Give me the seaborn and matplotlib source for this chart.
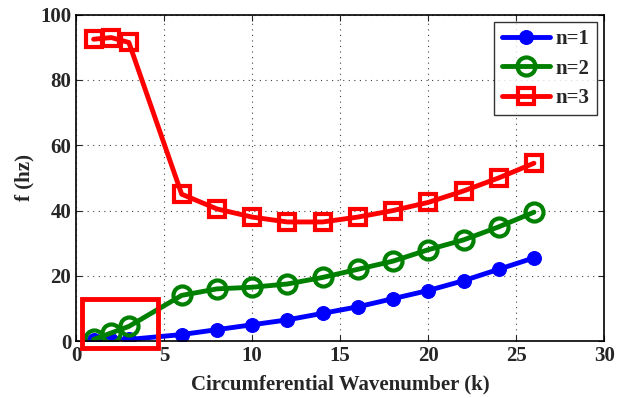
import matplotlib
matplotlib.use("Agg")
import matplotlib.pyplot as plt
import seaborn as sns
import pandas as pd
from matplotlib.patches import Rectangle

wavenumber = [1, 2, 3, 6, 8, 10, 12, 14, 16, 18, 20, 22, 24, 26]
f_n1 = [0.2, 0.3, 0.5, 2.0, 3.5, 5.0, 6.5, 8.5, 10.5, 13.0, 15.5, 18.5, 22.0, 25.5]
f_n2 = [0.5, 2.5, 4.5, 14.0, 16.0, 16.5, 17.5, 19.5, 22.0, 24.5, 28.0, 31.0, 35.0, 39.5]
f_n3 = [92.5, 93.0, 91.5, 45.0, 40.5, 38.0, 36.5, 36.5, 38.0, 40.0, 42.5, 46.0, 50.0, 54.5]
series_labels = ["n=1", "n=2", "n=3"]

df = pd.concat([
    pd.DataFrame({"k": wavenumber, "f": vals, "mode": lab})
    for vals, lab in zip([f_n1, f_n2, f_n3], series_labels)
])

sns.set_style("ticks")
plt.rcParams["font.family"] = ["Liberation Serif", "DejaVu Serif"]
plt.rcParams["font.weight"] = "bold"

fig = plt.figure(figsize=(6.18, 3.98), dpi=100)
ax = fig.add_axes([0.123, 0.143, 0.855, 0.82])

palette = {"n=1": "#0000ff", "n=2": "#008000", "n=3": "#ff0000"}
markers = {"n=1": "o", "n=2": "o", "n=3": "s"}
sns.lineplot(data=df, x="k", y="f", hue="mode", style="mode", palette=palette,
             markers=markers, dashes=False, linewidth=3.5, markersize=12,
             ax=ax, legend=False)

# marker styling per series: filled dots, hollow circles, hollow squares
for line, lab in zip(ax.lines, series_labels):
    c = palette[lab]
    if lab == "n=1":
        line.set_marker("o")
        line.set_markersize(10)
        line.set_markerfacecolor(c)
        line.set_markeredgecolor(c)
    else:
        line.set_markerfacecolor("none")
        line.set_markeredgecolor(c)
        line.set_markeredgewidth(3)
        line.set_markersize(13 if lab == "n=2" else 12)
    line.set_label(lab)

ax.add_patch(Rectangle((0.35, -2.0), 4.3, 14.8, fill=False, edgecolor="#ff0000",
                       linewidth=3.5, clip_on=False, zorder=5))

ax.set_xlim(0, 30)
ax.set_ylim(0, 100)
ax.set_xticks([0, 5, 10, 15, 20, 25, 30])
ax.set_yticks([0, 20, 40, 60, 80, 100])
ax.grid(True, linestyle=(0, (1, 4)), color="#444444", linewidth=0.8)
ax.tick_params(direction="in", top=True, right=True, labelsize=15, length=4)
for lbl in ax.get_xticklabels() + ax.get_yticklabels():
    lbl.set_fontweight("bold")
for s in ax.spines.values():
    s.set_linewidth(1.2)
    s.set_color("black")
ax.set_xlabel("Circumferential Wavenumber (k)", fontsize=15, fontweight="bold", labelpad=6)
ax.set_ylabel("f (hz)", fontsize=15, fontweight="bold", labelpad=4)

leg = ax.legend(loc="upper right", fontsize=15, frameon=True, fancybox=False,
                edgecolor="black", handlelength=2.3, borderpad=0.35,
                labelspacing=0.45, handletextpad=0.3, borderaxespad=0.35)
leg.get_frame().set_linewidth(1.0)
for t in leg.get_texts():
    t.set_fontweight("bold")

fig.savefig("out.png", dpi=100)
